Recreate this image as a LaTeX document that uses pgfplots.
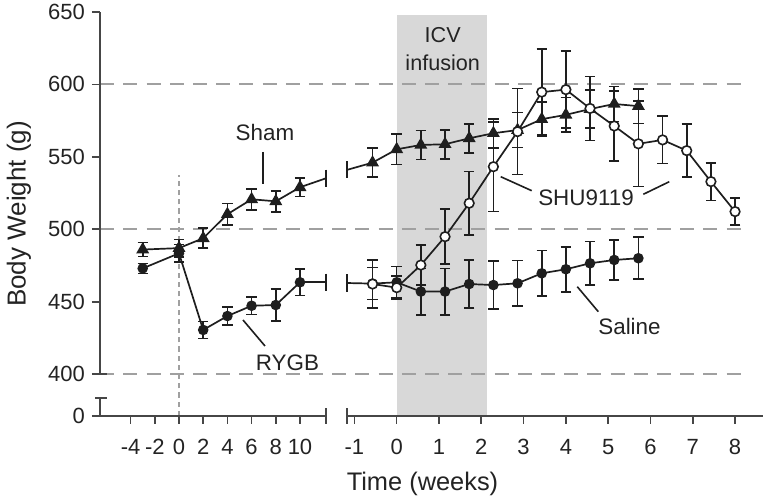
\documentclass[border=0pt]{standalone}
\usepackage{pgfplots}
\pgfplotsset{compat=1.18}
\usepackage{fontspec}
\setmainfont{Liberation Sans}
\definecolor{axc}{RGB}{70,70,70}
\definecolor{band}{RGB}{216,216,216}
\definecolor{dsh}{RGB}{160,160,160}
\definecolor{dat}{RGB}{30,30,30}
\definecolor{txt}{RGB}{35,35,35}
\tikzset{dline/.style={dsh, line width=1pt, dash pattern=on 7pt off 4.6pt}}
\pgfplotsset{
  common/.style={scale only axis, clip=false, ymin=371.1, ymax=650,
    axis line style={draw=none},
    tick style={axc, line width=0.8pt},
    tick align=outside, major tick length=4pt,
    xtick pos=bottom, ytick pos=left,
    ticklabel style={font=\fontsize{11}{13}\selectfont, text=txt},
    xticklabel style={yshift=-4pt},
    /pgf/number format/assume math mode=true,
  },
  ser/.style={dat, line width=0.85pt,
    error bars/y dir=both, error bars/y explicit,
    error bars/error bar style={line width=0.8pt, dat},
    error bars/error mark options={rotate=90, mark size=2.6pt, line width=0.8pt, dat}},
  tri/.style={mark=triangle*, mark size=2.9pt, mark options={solid, fill=dat, draw=dat}},
  fc/.style={mark=*, mark size=2.2pt, mark options={solid, fill=dat, draw=dat}},
  oc/.style={mark=*, mark size=2.4pt, mark options={solid, fill=white, draw=dat, line width=0.8pt}},
  ext/.style={dat, line width=0.85pt, no marks},
  brk/.style={dat, only marks, mark=|, mark size=4.3pt, mark options={line width=0.8pt}},
}
\begin{document}
\begin{tikzpicture}
\path[use as bounding box] (0,0) rectangle (384pt,-250.5pt);

% ---------------- right panel ----------------
\begin{axis}[common, at={(173.5pt,-208pt)}, anchor=south west,
  width=208pt, height=202pt, xmin=-1.175, xmax=8.66,
  xtick={-1,0,1,2,3,4,5,6,7,8}, ytick=\empty]
  \fill[band] (axis cs:0,371.1) rectangle (axis cs:2.13,648);
  \draw[dline] (axis cs:-7.01,400) -- (axis cs:8.28,400);
  \draw[dline] (axis cs:-7.01,500) -- (axis cs:8.28,500);
  \draw[dline] (axis cs:-7.01,600) -- (axis cs:8.28,600);
  \draw[axc, line width=0.8pt] (axis cs:-1.175,371.1) -- (axis cs:8.66,371.1);
  \draw[axc, line width=0.8pt] (axis cs:-1.175,376.6) -- (axis cs:-1.175,365.6);

  % Saline
  \addplot[ext] coordinates {(-1.175,462.9) (-0.571,462.5)};
  \addplot[brk] coordinates {(-1.175,462.9)};
  \addplot[fc, ser] coordinates {
    (-0.571,462.5) +- (0,11)
    (0,463.4) +- (0,11)
    (0.571,457.0) +- (0,16)
    (1.143,457.0) +- (0,16)
    (1.714,462.2) +- (0,16.7)
    (2.286,461.5) +- (0,16.4)
    (2.857,462.7) +- (0,15.7)
    (3.429,469.6) +- (0,15.8)
    (4.000,472.4) +- (0,15.5)
    (4.571,476.5) +- (0,15)
    (5.143,478.8) +- (0,14)
    (5.714,480.0) +- (0,14.5)
  };
  % Sham
  \addplot[ext] coordinates {(-1.175,541) (-0.571,546)};
  \addplot[brk] coordinates {(-1.175,541)};
  \addplot[tri, ser] coordinates {
    (-0.571,546.0) +- (0,10)
    (0,555.2) +- (0,10.6)
    (0.571,558.2) +- (0,10)
    (1.143,558.7) +- (0,10)
    (1.714,562.8) +- (0,10)
    (2.286,566.3) +- (0,10)
    (2.857,568.5) +- (0,12)
    (3.429,576.0) +- (0,12)
    (4.000,579.0) +- (0,12)
    (4.571,583.0) +- (0,13)
    (5.143,586.5) +- (0,12)
    (5.714,585.0) +- (0,12)
  };
  % SHU9119
  \addplot[oc, ser] coordinates {
    (-0.571,462.2) +- (0,16.7)
    (0,459.7) +- (0,8)
    (0.571,475.3) +- (0,13.8)
    (1.143,494.9) +- (0,19)
    (1.714,518.0) +- (0,22)
    (2.286,543.2) +- (0,31)
    (2.857,567.4) +- (0,29.7)
    (3.429,594.7) +- (0,29.7)
    (4.000,596.4) +- (0,26.5)
    (4.571,583.4) +- (0,22)
    (5.143,571.3) +- (0,24)
    (5.714,559.0) +- (0,29.5)
    (6.286,561.7) +- (0,16.3)
    (6.857,554.3) +- (0,18.4)
    (7.429,532.9) +- (0,12.9)
    (8.000,512.2) +- (0,9.2)
  };
\end{axis}

% ---------------- left panel ----------------
\begin{axis}[common, at={(50pt,-208pt)}, anchor=south west,
  width=113pt, height=202pt, xmin=-6.53, xmax=12.15,
  xtick={-4,-2,0,2,4,6,8,10},
  ytick={371.1,400,450,500,550,600,650},
  yticklabels={0,400,450,500,550,600,650}]
  \draw[dsh, line width=0.6pt, dash pattern=on 2.6pt off 2pt]
    (axis cs:0,371.1) -- (axis cs:0,537.5);
  \draw[axc, line width=0.8pt] (axis cs:-6.53,371.1) -- (axis cs:12.15,371.1);
  \draw[axc, line width=0.8pt] (axis cs:12.15,376.6) -- (axis cs:12.15,365.6);
  \draw[axc, line width=0.8pt] (axis cs:-6.53,371.1) -- (axis cs:-6.53,383.5);
  \draw[axc, line width=0.8pt] (axis cs:-6.94,383.5) -- (axis cs:-5.95,383.5);
  \draw[axc, line width=0.8pt] (axis cs:-6.53,400) -- (axis cs:-6.53,650);
  \draw[axc, line width=0.8pt] (axis cs:-7.0,400) -- (axis cs:-5.95,400);

  % RYGB
  \addplot[ext] coordinates {(10,463.5) (12.15,463.5)};
  \addplot[brk] coordinates {(12.15,463.5)};
  \addplot[fc, ser] coordinates {
    (-3,473.0) +- (0,3.5)
    (0,483.4) +- (0,6)
    (2,430.5) +- (0,5.8)
    (4,440.1) +- (0,6.3)
    (6,447.2) +- (0,6)
    (8,447.7) +- (0,11)
    (10,463.4) +- (0,9.2)
  };
  % Sham
  \addplot[ext] coordinates {(10,529) (12.15,535.2)};
  \addplot[brk] coordinates {(12.15,535.2)};
  \addplot[tri, ser] coordinates {
    (-3,486.0) +- (0,4.8)
    (0,487.0) +- (0,6)
    (2,493.8) +- (0,6.9)
    (4,510.4) +- (0,7.5)
    (6,520.7) +- (0,7.2)
    (8,519.3) +- (0,7.2)
    (10,529.0) +- (0,6.4)
  };
\end{axis}

% ---------------- annotations (pixel grid) ----------------
\begin{scope}[x=0.5pt, y=-0.5pt, every node/.style={text=txt, inner sep=0pt}]
  \node[font=\fontsize{11.2}{13}\selectfont] at (265,133) {Sham};
  \draw[dat, line width=0.8pt] (263,152) -- (263,184);
  \node[font=\fontsize{11.2}{13}\selectfont] at (287.5,363) {RYGB};
  \draw[dat, line width=0.8pt] (243,320) -- (265,346);
  \node[font=\fontsize{11.2}{13}\selectfont] at (586,198) {SHU9119};
  \draw[dat, line width=0.8pt] (500.7,176.7) -- (531.7,190.7);
  \draw[dat, line width=0.8pt] (643.3,194.3) -- (669.3,181.7);
  \node[font=\fontsize{11.2}{13}\selectfont] at (629.5,327) {Saline};
  \draw[dat, line width=0.8pt] (577.3,286.7) -- (598.3,311.7);
  \node[font=\fontsize{10.8}{13}\selectfont] at (442.7,35) {ICV};
  \node[font=\fontsize{10.8}{13}\selectfont] at (442.7,63) {infusion};
  \node[font=\fontsize{13}{15}\selectfont, rotate=90] at (19,214) {Body Weight (g)};
  \node[font=\fontsize{12.7}{15}\selectfont] at (422.5,484) {Time (weeks)};
\end{scope}
\end{tikzpicture}
\end{document}
